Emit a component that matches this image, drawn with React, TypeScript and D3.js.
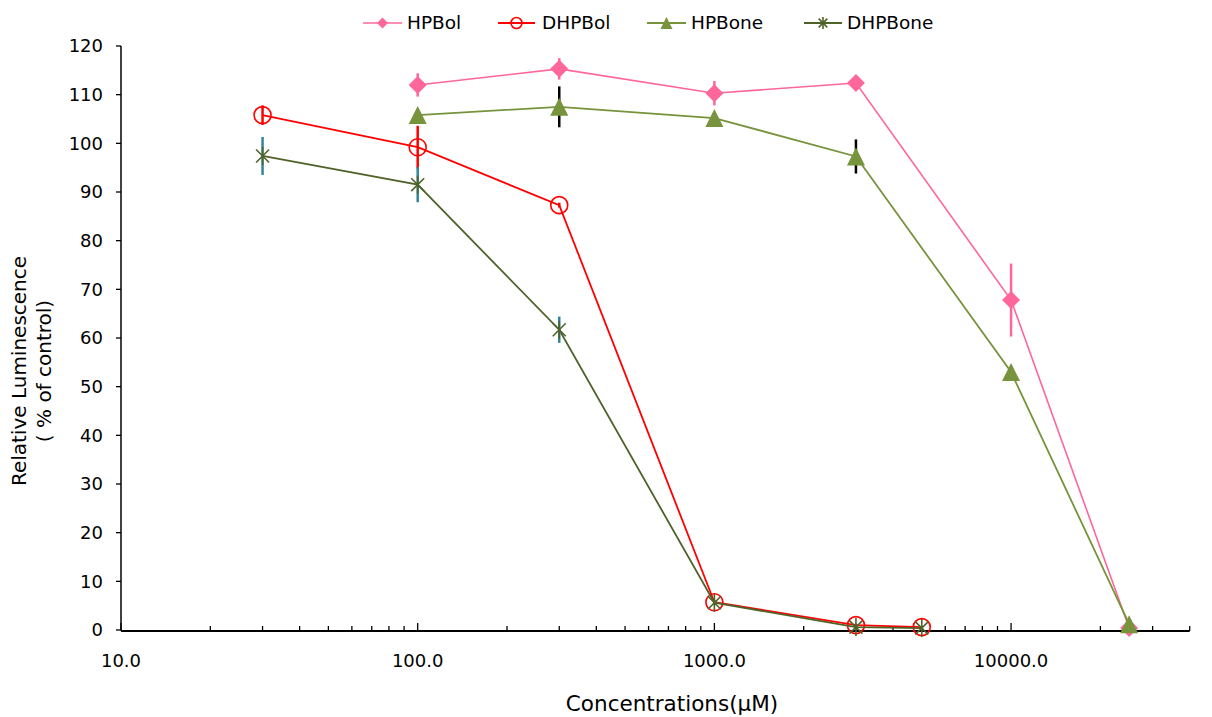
import React from 'react';
import * as d3 from 'd3';

// ---- data ----
const concHPBol = [100, 300, 1000, 3000, 10000, 25000];
const valHPBol = [112.0, 115.3, 110.3, 112.4, 67.8, 0.4];
const errHPBol = [2.4, 2.2, 2.5, 0.8, 7.5, 0.3];

const concDHPBol = [30, 100, 300, 1000, 3000, 5000];
const valDHPBol = [105.8, 99.2, 87.3, 5.7, 1.0, 0.6];
const errDHPBol = [2.0, 4.4, 0.5, 0.5, 0.3, 0.2];

const concHPBone = [100, 300, 1000, 3000, 10000, 25000];
const valHPBone = [105.8, 107.5, 105.2, 97.3, 53.0, 1.2];
const errHPBone = [1.0, 4.2, 0.8, 3.5, 1.0, 0.3];

const concDHPBone = [30, 100, 300, 1000, 3000, 5000];
const valDHPBone = [97.4, 91.5, 61.7, 5.6, 0.6, 0.4];
const errDHPBone = [3.9, 3.6, 2.7, 0.5, 0.3, 0.2];

const seriesNames = ['HPBol', 'DHPBol', 'HPBone', 'DHPBone'];
const yTicks = [0, 10, 20, 30, 40, 50, 60, 70, 80, 90, 100, 110, 120];
const xMajorTicks = [10, 100, 1000, 10000];

type Shape = 'diamond' | 'circle' | 'triangle' | 'asterisk';

const FONT = "'DejaVu Sans', Verdana, sans-serif";

function Marker({ shape, x, y, color, size }: { shape: Shape; x: number; y: number; color: string; size: number }) {
  const s = size;
  if (shape === 'diamond') {
    return <path d={`M${x},${y - s}L${x + s},${y}L${x},${y + s}L${x - s},${y}Z`} fill={color} />;
  }
  if (shape === 'circle') {
    return <circle cx={x} cy={y} r={s} fill="none" stroke={color} strokeWidth={1.6} />;
  }
  if (shape === 'triangle') {
    return <path d={`M${x},${y - s}L${x + s},${y + s}L${x - s},${y + s}Z`} fill={color} />;
  }
  const d = s * 0.72;
  return (
    <g stroke={color} strokeWidth={1.6}>
      <line x1={x} y1={y - s} x2={x} y2={y + s} />
      <line x1={x - d} y1={y - d} x2={x + d} y2={y + d} />
      <line x1={x - d} y1={y + d} x2={x + d} y2={y - d} />
    </g>
  );
}

export default function App() {
  const W = 1212, H = 717;
  const x = d3.scaleLog().domain([10, 40000]).range([121, 1189.7]);
  const y = d3.scaleLinear().domain([0, 120]).range([630, 46]);

  const series = [
    { name: seriesNames[0], conc: concHPBol, val: valHPBol, err: errHPBol, color: '#FF6699', errColor: '#FF6699', shape: 'diamond' as Shape, size: 9, lw: 1.6, lsize: 5.5 },
    { name: seriesNames[1], conc: concDHPBol, val: valDHPBol, err: errDHPBol, color: '#FF0000', errColor: '#FF0000', shape: 'circle' as Shape, size: 8.5, lw: 1.8, lsize: 5.5 },
    { name: seriesNames[2], conc: concHPBone, val: valHPBone, err: errHPBone, color: '#77933C', errColor: '#000000', shape: 'triangle' as Shape, size: 9, lw: 1.8, lsize: 6 },
    { name: seriesNames[3], conc: concDHPBone, val: valDHPBone, err: errDHPBone, color: '#4F6228', errColor: '#31859C', shape: 'asterisk' as Shape, size: 9, lw: 1.8, lsize: 6 },
  ];

  const line = d3.line<[number, number]>().x(d => x(d[0])).y(d => y(d[1]));

  const minorTicks: number[] = [];
  for (let e = 1; e <= 4; e++) {
    for (let m = 2; m <= 9; m++) {
      const v = m * Math.pow(10, e);
      if (v <= 40000) minorTicks.push(v);
    }
  }

  const legendPos = [
    { x1: 363, x2: 402, tx: 407 },
    { x1: 498, x2: 535, tx: 542 },
    { x1: 647, x2: 686, tx: 691 },
    { x1: 804, x2: 842, tx: 847 },
  ];
  const legendY = 23;

  return (
    <svg width={W} height={H} style={{ position: 'absolute', left: 0, top: 0, background: '#fff' }} fontFamily={FONT}>
      <rect x={0} y={0} width={W} height={H} fill="#fff" />
      {/* Y axis */}
      <line x1={121} y1={y(120)} x2={121} y2={y(0)} stroke="#000" strokeWidth={1.5} />
      {yTicks.map(t => (
        <g key={'yt' + t}>
          <line x1={116} x2={121} y1={y(t)} y2={y(t)} stroke="#000" strokeWidth={1.3} />
          <text x={103} y={y(t)} dy="0.35em" textAnchor="end" fontSize={18} fill="#000">{t}</text>
        </g>
      ))}
      {/* X axis */}
      <line x1={121} y1={631} x2={x(40000)} y2={631} stroke="#000" strokeWidth={2.2} />
      {minorTicks.map(t => (
        <line key={'mt' + t} x1={x(t)} x2={x(t)} y1={631} y2={626} stroke="#000" strokeWidth={1.3} />
      ))}
      {xMajorTicks.map(t => (
        <g key={'xt' + t}>
          <line x1={x(t)} x2={x(t)} y1={631} y2={623} stroke="#000" strokeWidth={1.3} />
          <text x={x(t)} y={667} textAnchor="middle" fontSize={18} fill="#000">{d3.format('.1f')(t)}</text>
        </g>
      ))}
      {/* axis titles */}
      <text x={672} y={711} textAnchor="middle" fontSize={21.5} fill="#000">Concentrations(µM)</text>
      <g transform="translate(26,371) rotate(-90)">
        <text x={0} y={0} textAnchor="middle" fontSize={20} fill="#000">Relative Luminescence</text>
        <text x={0} y={25} textAnchor="middle" fontSize={20} fill="#000">( % of control)</text>
      </g>
      {/* series */}
      {series.map(s => {
        const pts = s.conc.map((c, i) => [c, s.val[i]] as [number, number]);
        return (
          <g key={s.name}>
            <path d={line(pts) || ''} fill="none" stroke={s.color} strokeWidth={s.lw} />
            {pts.map((p, i) => (
              <line key={'e' + i} x1={x(p[0])} x2={x(p[0])} y1={y(p[1] + s.err[i])} y2={y(p[1] - s.err[i])} stroke={s.errColor} strokeWidth={2.5} />
            ))}
            {pts.map((p, i) => (
              <Marker key={'m' + i} shape={s.shape} x={x(p[0])} y={y(p[1])} color={s.color} size={s.size} />
            ))}
          </g>
        );
      })}
      {/* legend */}
      {series.map((s, i) => {
        const lp = legendPos[i];
        return (
          <g key={'lg' + s.name}>
            <line x1={lp.x1} x2={lp.x2} y1={legendY} y2={legendY} stroke={s.color} strokeWidth={s.lw} />
            <Marker shape={s.shape} x={(lp.x1 + lp.x2) / 2} y={legendY} color={s.color} size={s.lsize} />
            <text x={lp.tx} y={legendY} dy="0.35em" fontSize={18.5} fill="#000">{s.name}</text>
          </g>
        );
      })}
    </svg>
  );
}
